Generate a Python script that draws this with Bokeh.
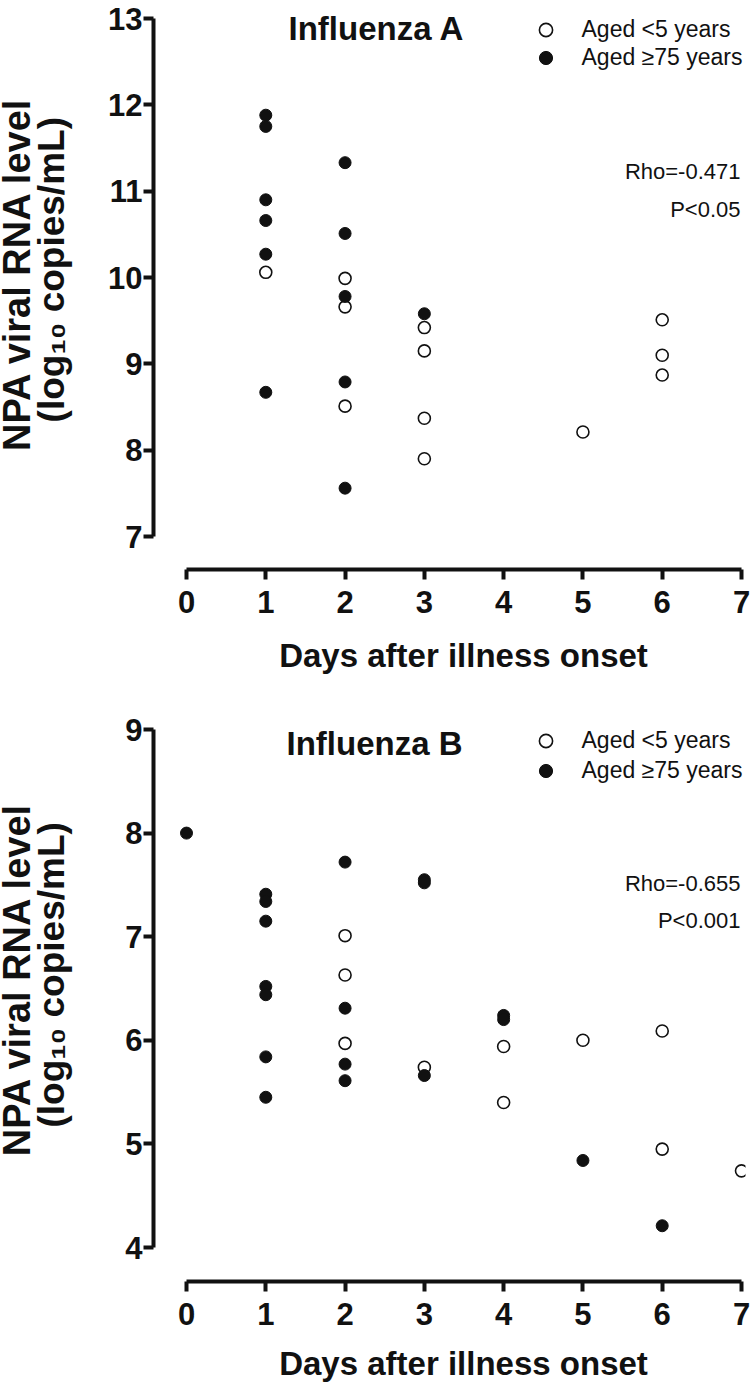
import math
from bokeh.plotting import figure
from bokeh.models import Range1d, FixedTicker, Label, Legend, LegendItem
from bokeh.layouts import column, row
from bokeh.embed import file_html
from bokeh.resources import INLINE

# ---------------- data ----------------
day_ticks = [0, 1, 2, 3, 4, 5, 6, 7]
a_ticks = [7, 8, 9, 10, 11, 12, 13]
b_ticks = [4, 5, 6, 7, 8, 9]

a_young_day = [1, 2, 2, 2, 3, 3, 3, 3, 5, 6, 6, 6]
a_young_val = [10.06, 9.99, 9.66, 8.51, 9.42, 9.15, 8.37, 7.90, 8.21, 9.51, 9.10, 8.87]
a_old_day = [1, 1, 1, 1, 1, 1, 2, 2, 2, 2, 2, 3]
a_old_val = [11.88, 11.75, 10.90, 10.66, 10.27, 8.67, 11.33, 10.51, 9.78, 8.79, 7.56, 9.58]

b_young_day = [2, 2, 2, 3, 4, 4, 5, 6, 6, 7]
b_young_val = [7.01, 6.63, 5.97, 5.74, 5.94, 5.40, 6.00, 6.09, 4.95, 4.74]
b_old_day = [0, 1, 1, 1, 1, 1, 1, 1, 2, 2, 2, 2, 3, 3, 3, 4, 4, 5, 6]
b_old_val = [8.00, 7.41, 7.34, 7.15, 6.52, 6.44, 5.84, 5.45, 7.72, 6.31, 5.77, 5.61,
             7.55, 7.52, 5.66, 6.24, 6.20, 4.84, 4.21]

legend_labels = ["Aged <5 years", "Aged \u226575 years"]
y_label_1 = "NPA viral RNA level"
y_label_2 = "(log\u2081\u2080 copies/mL)"
x_label = "Days after illness onset"

FONT = "Liberation Sans"
INK = "#111111"
W = 750
LW = 90                 # width of the strip that carries the y-axis title
MW = W - LW             # width of the plot figure
FRAME_LEFT = 153        # page x of the y axis
R_BORDER = 5
X0I = 186.0
X7I = 741.0
PPX = (X7I - X0I) / 7.0
ROT_SHIFT = 34          # measured offset of rotated labels in this renderer


def strip(width, height):
    s = figure(width=width, height=height, title=None, x_axis_type=None, y_axis_type=None,
               x_range=Range1d(0, width), y_range=Range1d(height, 0),
               output_backend="svg", toolbar_location=None,
               min_border_left=0, min_border_right=0, min_border_top=0,
               min_border_bottom=0)
    s.outline_line_color = None
    s.grid.visible = False
    s.background_fill_color = "white"
    return s


def make_panel(title, rho, pval, yd, yv, od, ov, yticks, panel_top, off, main_h,
               ytop_ref, ybot_ref, xaxis_ref, title_ref, leg_ref, rho_ref, p_ref,
               ylab_starts, xlab_ref):
    y_hi, y_lo = yticks[-1], yticks[0]
    ytop_i = ytop_ref - off
    ybot_i = ybot_ref - off
    xax_i = xaxis_ref - off
    ppu = (ybot_i - ytop_i) / (y_hi - y_lo)
    y_start = y_lo - (xax_i - ybot_i) / ppu
    y_end = y_hi + ytop_i / ppu
    x_start = -(X0I - FRAME_LEFT) / PPX
    x_end = 7 + ((W - R_BORDER) - X7I) / PPX

    p = figure(width=MW, height=main_h, title=None,
               x_range=Range1d(x_start, x_end), y_range=Range1d(y_start, y_end),
               output_backend="svg", toolbar_location=None,
               min_border_left=FRAME_LEFT - LW, min_border_right=R_BORDER,
               min_border_top=0, min_border_bottom=main_h - xax_i)
    p.outline_line_color = None
    p.grid.visible = False
    p.background_fill_color = "white"

    for ax in (p.xaxis[0], p.yaxis[0]):
        ax.axis_line_width = 4
        ax.major_tick_line_width = 4
        ax.major_tick_in = 0
        ax.major_tick_out = 10
        ax.minor_tick_line_color = None
        ax.axis_line_color = INK
        ax.major_tick_line_color = INK
        ax.major_label_text_font = FONT
        ax.major_label_text_font_style = "bold"
        ax.major_label_text_font_size = "31px"
        ax.major_label_text_color = INK

    xa = p.xaxis[0]
    xa.ticker = FixedTicker(ticks=day_ticks)
    xa.bounds = (0, 7)
    xa.major_label_standoff = 11

    ya = p.yaxis[0]
    ya.ticker = FixedTicker(ticks=yticks)
    ya.bounds = (y_lo, y_hi)
    ya.major_label_standoff = 1

    r_young = p.scatter(yd, yv, marker="circle", size=12, fill_color="white",
                        line_color=INK, line_width=1.6)
    r_old = p.scatter(od, ov, marker="circle", size=12, fill_color=INK,
                      line_color=INK, line_width=1.0)

    def dx(rx):
        return (rx - X0I) / PPX

    def dy(ry):
        return y_hi - ((ry - off) - ytop_i) / ppu

    def lab(x, y, text, size, bold=False, align="center"):
        p.add_layout(Label(x=x, y=y, text=text, text_font=FONT,
                           text_font_style="bold" if bold else "normal",
                           text_font_size=size, text_align=align,
                           text_baseline="middle", text_color=INK))

    lab(dx(title_ref[0]), dy(title_ref[1]), title, "33px", bold=True)
    lab(dx(740), dy(rho_ref), rho, "22px", align="right")
    lab(dx(740), dy(p_ref), pval, "22px", align="right")

    G = 33
    for i, (rend, text) in enumerate([(r_young, legend_labels[0]), (r_old, legend_labels[1])]):
        cx = leg_ref[0]
        cy_i = leg_ref[1][i] - off
        left = cx - G / 2 - FRAME_LEFT
        bottom = xax_i - (cy_i + G / 2)
        lg = Legend(items=[LegendItem(label=text, renderers=[rend])],
                    location=(left, bottom), orientation="vertical",
                    glyph_width=G, glyph_height=G, padding=0, margin=0, spacing=0,
                    label_standoff=int(582 - cx - G / 2),
                    label_text_font=FONT, label_text_font_size="23px",
                    label_text_color=INK, label_text_baseline="middle",
                    border_line_color=None, background_fill_alpha=0)
        p.add_layout(lg, "center")

    # left strip: two-line y-axis title, reading bottom to top
    lf = strip(LW, main_h)
    lf.add_layout(Label(x=16, y=ylab_starts[0] - off + ROT_SHIFT, text=y_label_1,
                        angle=math.pi / 2,
                        text_font=FONT, text_font_style="bold", text_font_size="38px",
                        text_align="left", text_baseline="middle", text_color=INK))
    lf.add_layout(Label(x=51, y=ylab_starts[1] - off + ROT_SHIFT + 1, text=y_label_2,
                        angle=math.pi / 2,
                        text_font=FONT, text_font_style="bold", text_font_size="37px",
                        text_align="left", text_baseline="middle", text_color=INK))

    # bottom strip: x-axis title centred under the 0..7 axis line
    strip_top = panel_top + main_h
    xs_h = 692 - main_h
    xs = strip(W, xs_h)
    xs.add_layout(Label(x=463, y=xlab_ref - strip_top, text=x_label,
                        text_font=FONT, text_font_style="bold", text_font_size="33px",
                        text_align="center", text_baseline="middle", text_color=INK))
    return column(row(lf, p, spacing=0), xs, spacing=0)


top = make_panel("Influenza A", "Rho=-0.471", "P<0.05",
                 a_young_day, a_young_val, a_old_day, a_old_val, a_ticks,
                 0, -4, 619, 14, 532, 565, (376, 24), (545, [25, 53]), 167, 205,
                 (452, 420), 655)
bot = make_panel("Influenza B", "Rho=-0.655", "P<0.001",
                 b_young_day, b_young_val, b_old_day, b_old_val, b_ticks,
                 692, 692, 639, 729, 1247, 1281, (374, 743), (545, [740, 770]), 883, 920,
                 (1161, 1129), 1363)

layout = column(top, bot, spacing=0)
open("out.html", "w").write(file_html(layout, INLINE))
